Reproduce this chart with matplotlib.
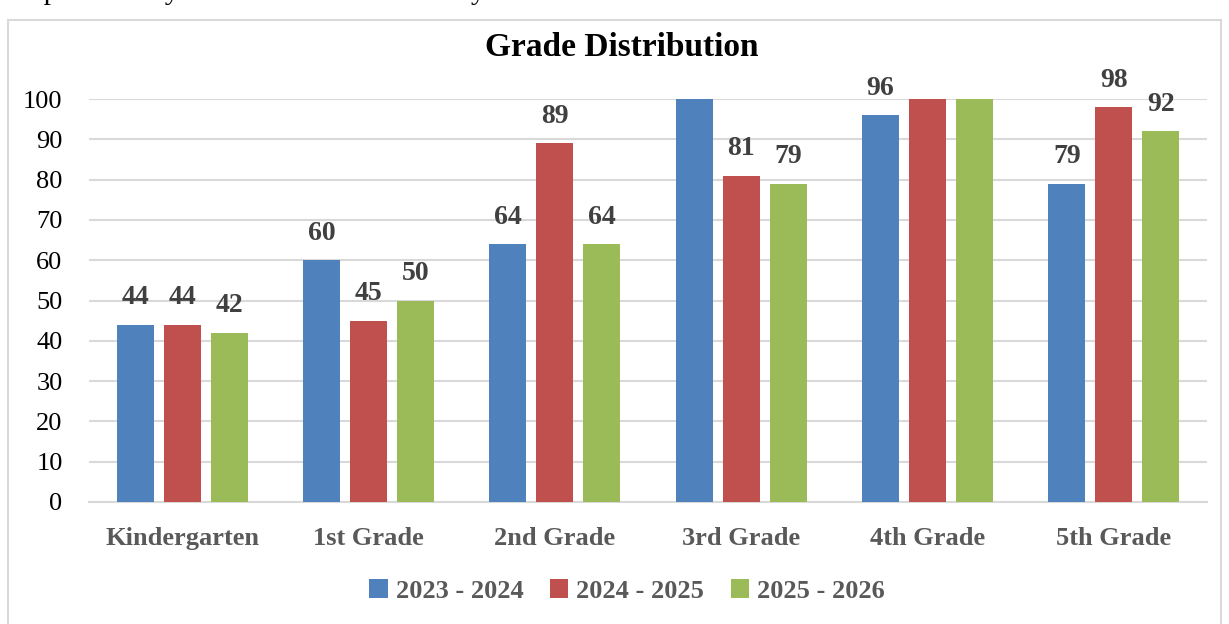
import numpy as np
import matplotlib.pyplot as plt
from matplotlib.patches import Rectangle

grades = ["Kindergarten", "1st Grade", "2nd Grade", "3rd Grade", "4th Grade", "5th Grade"]
years = ["2023 - 2024", "2024 - 2025", "2025 - 2026"]
y2023 = [44, 60, 64, 103, 96, 79]
y2024 = [44, 45, 89, 81, 102, 98]
y2025 = [42, 50, 64, 79, 104, 92]
colors = ["#4F81BD", "#C0504D", "#9BBB59"]

plt.rcParams['font.family'] = ['Liberation Serif', 'DejaVu Serif']

fig = plt.figure(figsize=(12.29, 6.24), dpi=100)
ax = fig.add_axes([89 / 1229, 1 - 502 / 624, (1207 - 89) / 1229, (502 - 99) / 624])

# chart frame, cut off at the bottom
fig.patches.append(Rectangle((8 / 1229, -0.1), (1221 - 8) / 1229, 1.1 - 20 / 624,
                             transform=fig.transFigure, fill=False,
                             edgecolor="#D9D9D9", linewidth=1.5))
# caption above the chart, mostly cropped off in the screenshot
fig.text(0.0, 1.0 + 1 / 624, "Graph: Three-year Student Enrollment by Grade", fontsize=21,
         va="baseline", ha="left", color="black")

x = np.arange(len(grades))
w = 37 / 186.5
step = 47 / 186.5
for i, (vals, c) in enumerate(zip([y2023, y2024, y2025], colors)):
    bars = ax.bar(x + (i - 1) * step, vals, width=w, color=c, label=years[i], zorder=3)
    for b, v in zip(bars, vals):
        if v <= 100:
            ax.text(b.get_x() + b.get_width() / 2, v + 3.6, str(v), ha="center", va="bottom",
                    fontsize=20, fontweight="bold", color="#404040")

ax.set_ylim(0, 100)
ax.set_xlim(-0.5, len(grades) - 0.5)
ax.set_yticks(range(0, 101, 10))
ax.tick_params(axis="y", length=0, labelsize=19, pad=19)
ax.tick_params(axis="x", length=0, labelsize=19, pad=18)
ax.set_xticks(x)
ax.set_xticklabels(grades, fontweight="bold", color="#595959")
for lab in ax.get_yticklabels():
    lab.set_color("black")
ax.grid(axis="y", color="#D9D9D9", linewidth=1.5, zorder=0)
for s in ["top", "right", "left"]:
    ax.spines[s].set_visible(False)
ax.spines["bottom"].set_color("#D9D9D9")
ax.spines["bottom"].set_linewidth(1.5)

fig.text(622 / 1229, 1 - 47 / 624, "Grade Distribution", ha="center", va="center",
         fontsize=24, fontweight="bold", color="black")

fig.legend(loc="center", bbox_to_anchor=(627 / 1229, 1 - 591 / 624), ncol=3, frameon=False,
           prop={"weight": "bold", "size": 19}, labelcolor="#595959", handlelength=0.7,
           handleheight=0.7, handletextpad=0.3, columnspacing=1.0)

fig.savefig("out.png", dpi=100)
